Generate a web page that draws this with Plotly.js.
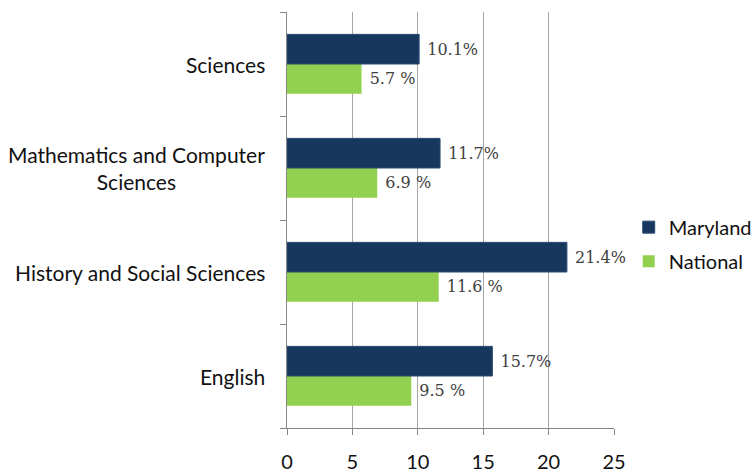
<!DOCTYPE html>
<html>
<head>
<meta charset="utf-8">
<script src="https://cdn.plot.ly/plotly-3.0.1.min.js"></script>
<style>html,body{margin:0;padding:0;background:#fff;}#chart{width:755px;height:475px;}</style>
</head>
<body>
<div id="chart"></div>
<script>
var categories = ["English", "History and Social Sciences", "Mathematics and Computer<br>Sciences", "Sciences"];
var marylandValues = [15.7, 21.4, 11.7, 10.1];
var nationalValues = [9.5, 11.6, 6.9, 5.7];
var marylandLabels = ["15.7%", "21.4%", "11.7%", "10.1%"];
var nationalLabels = ["9.5 %", "11.6 %", "6.9 %", "5.7 %"];
var xTickValues = [0, 5, 10, 15, 20, 25];

var labelFont = {family: "DejaVu Serif", size: 16, color: "#404040"};

var traces = [
  {
    type: "bar", orientation: "h", name: "National",
    y: categories, x: nationalValues, text: nationalLabels,
    texttemplate: "\u00a0%{text}",
    textposition: "outside", textfont: labelFont, cliponaxis: false,
    marker: {color: "#92D050"}, legendgroup: "n", legendrank: 2, hoverinfo: "none"
  },
  {
    type: "bar", orientation: "h", name: "Maryland",
    y: categories, x: marylandValues, text: marylandLabels,
    texttemplate: "\u00a0%{text}",
    textposition: "outside", textfont: labelFont, cliponaxis: false,
    marker: {color: "#17375E", line: {color: "#2C4C74", width: 1}}, legendgroup: "m", legendrank: 1, hoverinfo: "none"
  }
];

var annotations = categories.map(function (c) {
  return {
    xref: "paper", yref: "y", x: -0.06, y: c, text: c,
    xanchor: "right", yanchor: "middle", align: "center", showarrow: false,
    font: {family: "Lato", size: 21, color: "#111111"}
  };
});

var layout = {
  width: 755, height: 475,
  margin: {l: 287, r: 141, t: 12, b: 47, autoexpand: false},
  paper_bgcolor: "#ffffff", plot_bgcolor: "#ffffff",
  barmode: "group", bargap: 0.43, bargroupgap: 0,
  showlegend: true,
  legend: {
    x: 1.045, y: 0.442, xanchor: "left", yanchor: "middle",
    traceorder: "grouped", tracegroupgap: 5,
    font: {family: "Lato", size: 20, color: "#111111"},
    itemwidth: 30
  },
  xaxis: {
    range: [0, 25], tickvals: xTickValues, ticktext: xTickValues.map(String),
    showgrid: true, gridcolor: "#A6A6A6", gridwidth: 1,
    zeroline: false, showline: true, linecolor: "#868686", linewidth: 1,
    ticks: "outside", ticklen: 6, tickcolor: "#868686",
    tickfont: {family: "Lato", size: 20, color: "#111111"},
    ticklabelstandoff: 10, fixedrange: true
  },
  yaxis: {
    type: "category", categoryorder: "array", categoryarray: categories,
    showticklabels: false, showgrid: false, zeroline: false,
    showline: true, linecolor: "#868686", linewidth: 1,
    ticks: "outside", tickson: "boundaries", ticklen: 6, tickcolor: "#868686",
    fixedrange: true
  },
  annotations: annotations
};

Plotly.newPlot("chart", traces, layout, {displayModeBar: false, staticPlot: true});
</script>
</body>
</html>
